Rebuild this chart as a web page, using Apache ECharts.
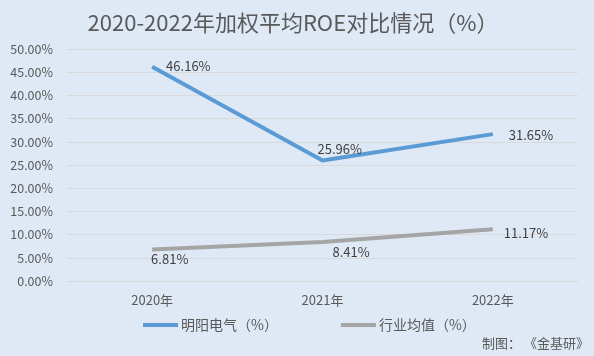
<!DOCTYPE html>
<html><head><meta charset="utf-8">
<script src="https://cdn.jsdelivr.net/npm/echarts@6/dist/echarts.min.js"></script>
<style>html,body{margin:0;padding:0;background:#DEE9F5;}#c{width:594px;height:356px;}</style>
</head><body><div id="c"></div>
<script>
const categories = ['2020年', '2021年', '2022年'];
const mingyang = [46.16, 25.96, 31.65];
const industry = [6.81, 8.41, 11.17];
const seriesNames = ['明阳电气（%）', '行业均值（%）'];
// label offsets (left edge dx, center dy) relative to each point
const mingyangLabelOff = [[14, -1], [-5, -11], [16, 1]];
const industryLabelOff = [[-1, 10], [10, 10], [11, 4]];

const font = '"Microsoft YaHei","Noto Sans CJK SC",sans-serif';
const chart = echarts.init(document.getElementById('c'));
function mk(vals, off) {
  return vals.map((v, i) => ({ value: v, label: { position: off[i] } }));
}
const labelBase = { show: true, fontFamily: font, fontSize: 13, color: '#404040',
  align: 'left', verticalAlign: 'middle', formatter: p => p.value.toFixed(2) + '%' };
chart.setOption({
  backgroundColor: '#DEE9F5',
  animation: false,
  title: {
    text: '2020-2022年加权平均ROE对比情况（%）',
    left: 288, top: 7, textAlign: 'center',
    textStyle: { fontFamily: font, fontSize: 22, fontWeight: 'normal', color: '#595959' }
  },
  graphic: [{
    type: 'text', right: 5, top: 337,
    style: { text: '制图： 《金基研》', font: '13px ' + font, fill: '#595959' }
  }],
  legend: {
    top: 318, left: 143, padding: 0, itemGap: 63, itemWidth: 35, itemHeight: 4,
    icon: 'rect',
    textStyle: { fontFamily: font, fontSize: 14, color: '#595959', padding: [0, 0, 0, -2] },
    data: seriesNames
  },
  grid: { left: 67, right: 16, top: 49, bottom: 75 },
  xAxis: {
    type: 'category', data: categories, boundaryGap: true,
    axisLine: { show: true, lineStyle: { color: '#D9D9D9' } },
    axisTick: { show: false },
    axisLabel: { fontFamily: font, fontSize: 13, color: '#595959', margin: 13 }
  },
  yAxis: {
    type: 'value', min: 0, max: 50, interval: 5,
    axisLine: { show: false }, axisTick: { show: false },
    splitLine: { lineStyle: { color: '#D9D9D9', width: 1 } },
    axisLabel: { fontFamily: font, fontSize: 12.5, color: '#595959', margin: 14,
      formatter: v => v.toFixed(2) + '%' }
  },
  series: [
    {
      name: seriesNames[0], type: 'line', data: mk(mingyang, mingyangLabelOff),
      symbol: 'circle', symbolSize: 0.1, showSymbol: true,
      lineStyle: { color: '#5B9BD5', width: 4 }, itemStyle: { color: '#5B9BD5' },
      label: labelBase
    },
    {
      name: seriesNames[1], type: 'line', data: mk(industry, industryLabelOff),
      symbol: 'circle', symbolSize: 0.1, showSymbol: true,
      lineStyle: { color: '#A5A5A5', width: 4 }, itemStyle: { color: '#A5A5A5' },
      label: labelBase
    }
  ]
});
</script></body></html>
